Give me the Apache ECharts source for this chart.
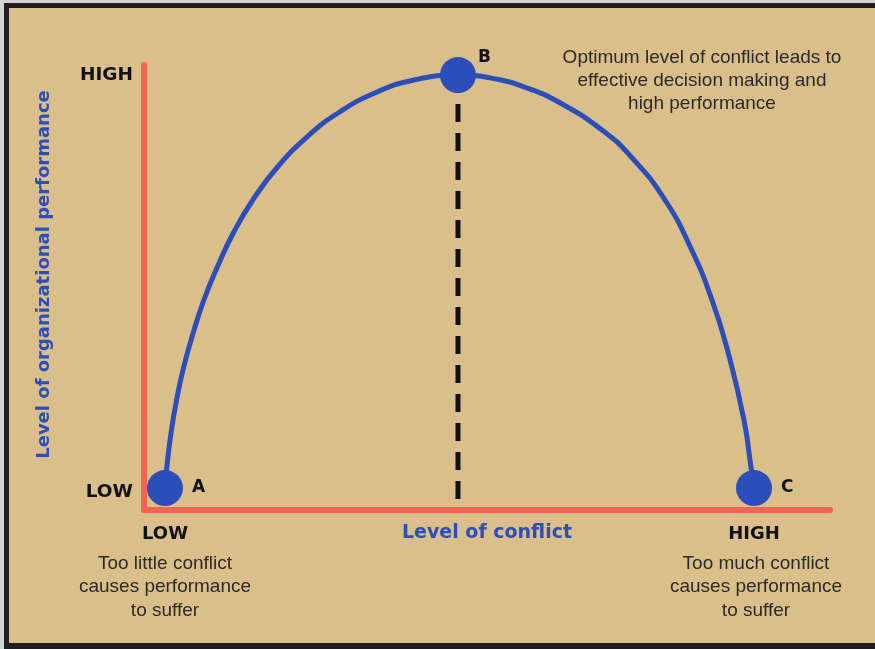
<!DOCTYPE html>
<html>
<head>
<meta charset="utf-8">
<script src="https://cdn.jsdelivr.net/npm/echarts@6/dist/echarts.min.js"></script>
<style>
html,body{margin:0;padding:0;background:#DBBF8B;}
#chart{width:875px;height:649px;}
</style>
</head>
<body>
<div id="chart"></div>
<script>
// ---- data ----
const curveX = [3.06, 3.33, 3.94, 4.75, 5.79, 7.17, 8.73, 10.69, 13.02, 15.86, 19.46, 24.08, 28.29, 33.64, 39.36, 45.77, 52.04, 55.83, 59.91, 66.76, 71.43, 75.95, 79.64, 82.80, 85.17, 87.46, 88.48, 88.92];
const curveY = [4.94, 9.66, 17.30, 24.72, 32.13, 39.78, 47.19, 54.61, 62.25, 69.66, 77.08, 84.27, 89.21, 93.71, 96.63, 97.75, 96.63, 94.83, 92.13, 85.39, 78.65, 69.66, 59.10, 47.19, 35.28, 20.22, 9.66, 4.94];
const pointNames = ['A', 'B', 'C'];
const pointX = [3.06, 45.77, 88.92];
const pointY = [4.94, 97.75, 4.94];
const dropX = [45.77, 45.77];
const dropY = [97.75, 0];
const xTickValues = [3.06, 88.92];
const xTickLabels = ['LOW', 'HIGH'];
const yTickValues = [4.0, 97.75];
const yTickLabels = ['LOW', 'HIGH'];
const xAxisTitle = 'Level of conflict';
const yAxisTitle = 'Level of organizational performance';
const noteTop = ['Optimum level of conflict leads to', 'effective decision making and', 'high performance'];
const noteLeft = ['Too little conflict', 'causes performance', 'to suffer'];
const noteRight = ['Too much conflict', 'causes performance', 'to suffer'];

// ---- styles ----
const BG = '#DBBF8B';
const BLUE = '#2C4EB8';
const RED = '#EF6550';
const BOLD = '"DejaVu Sans", sans-serif';
const REG = '"Liberation Sans", Arial, sans-serif';

function lookup(vals, labels) {
  return function (v) {
    let best = 0;
    for (let i = 1; i < vals.length; i++) if (Math.abs(vals[i] - v) < Math.abs(vals[best] - v)) best = i;
    return labels[best];
  };
}

const chart = echarts.init(document.getElementById('chart'), null, {renderer: 'canvas'});

const option = {
  backgroundColor: BG,
  animation: false,
  grid: {left: 144, right: 45, top: 65, bottom: 139},
  xAxis: {
    type: 'value', min: 0, max: 100,
    splitLine: {show: false},
    axisTick: {show: false},
    axisLine: {show: true, onZero: false, lineStyle: {color: RED, width: 6, cap: 'round'}},
    axisLabel: {
      customValues: xTickValues, formatter: lookup(xTickValues, xTickLabels),
      margin: 15, color: '#111', fontFamily: BOLD, fontWeight: 'bold', fontSize: 18
    },
    name: xAxisTitle, nameLocation: 'middle', nameGap: 14, nameMoveOverlap: false,
    nameTextStyle: {color: BLUE, fontFamily: BOLD, fontWeight: 'bold', fontSize: 19, verticalAlign: 'top'}
  },
  yAxis: {
    type: 'value', min: 0, max: 100,
    splitLine: {show: false},
    axisTick: {show: false},
    axisLine: {show: true, onZero: false, lineStyle: {color: RED, width: 6}},
    axisLabel: {
      customValues: yTickValues, formatter: lookup(yTickValues, yTickLabels),
      margin: 11, color: '#111', fontFamily: BOLD, fontWeight: 'bold', fontSize: 18.5
    },
    name: yAxisTitle, nameLocation: 'middle', nameGap: 91, nameRotate: 90, nameMoveOverlap: false,
    nameTextStyle: {color: BLUE, fontFamily: BOLD, fontWeight: 'bold', fontSize: 18, padding: [0, 0, 0, 26]}
  },
  series: [
    {
      type: 'line', z: 2,
      data: dropX.map((x, i) => [x, dropY[i]]),
      symbol: 'none',
      lineStyle: {color: '#111', width: 5, type: [18, 11]}
    },
    {
      type: 'custom', z: 3,
      data: curveX.map((x, i) => [x, curveY[i]]),
      encode: {x: 0, y: 1},
      renderItem: function (params, api) {
        if (params.dataIndexInside !== 0) return null;
        const n = params.dataInsideLength;
        const pts = [];
        for (let i = 0; i < n; i++) pts.push(api.coord([api.value(0, i), api.value(1, i)]));
        return {
          type: 'polyline',
          shape: {points: pts, smooth: 0.5},
          style: {stroke: BLUE, lineWidth: 5, fill: null, lineCap: 'round', lineJoin: 'round'}
        };
      }
    },
    {
      type: 'scatter', z: 4,
      symbolSize: 36,
      itemStyle: {color: BLUE, opacity: 1},
      data: pointNames.map((n, i) => ({
        name: n, value: [pointX[i], pointY[i]],
        label: n === 'B'
          ? {show: true, position: 'right', distance: 2, offset: [0, -17]}
          : {show: true, position: 'right', distance: 9}
      })),
      label: {
        formatter: '{b}', color: '#111', fontFamily: BOLD, fontWeight: 'bold', fontSize: 17
      }
    }
  ],
  graphic: [
    {type: 'rect', shape: {x: 0, y: 0, width: 875, height: 3}, style: {fill: '#d4d4d4'}, silent: true},
    {type: 'rect', shape: {x: 0, y: 0, width: 4, height: 649}, style: {fill: '#d4d4d4'}, silent: true},
    {type: 'rect', shape: {x: 4, y: 3, width: 871, height: 5}, style: {fill: '#1f1f1f'}, silent: true},
    {type: 'rect', shape: {x: 4, y: 3, width: 5, height: 646}, style: {fill: '#1f1f1f'}, silent: true},
    {type: 'rect', shape: {x: 4, y: 643, width: 871, height: 6}, style: {fill: '#1f1f1f'}, silent: true},
    {
      type: 'text', x: 702, y: 80.5, silent: true,
      style: {text: noteTop.join('\n'), fill: '#2a2a2a', font: '19px ' + REG, align: 'center', verticalAlign: 'middle', lineHeight: 23}
    },
    {
      type: 'text', x: 165, y: 587, silent: true,
      style: {text: noteLeft.join('\n'), fill: '#2a2a2a', font: '19px ' + REG, align: 'center', verticalAlign: 'middle', lineHeight: 23.5}
    },
    {
      type: 'text', x: 756, y: 587, silent: true,
      style: {text: noteRight.join('\n'), fill: '#2a2a2a', font: '19px ' + REG, align: 'center', verticalAlign: 'middle', lineHeight: 23.5}
    }
  ]
};
chart.setOption(option);
</script>
</body>
</html>
